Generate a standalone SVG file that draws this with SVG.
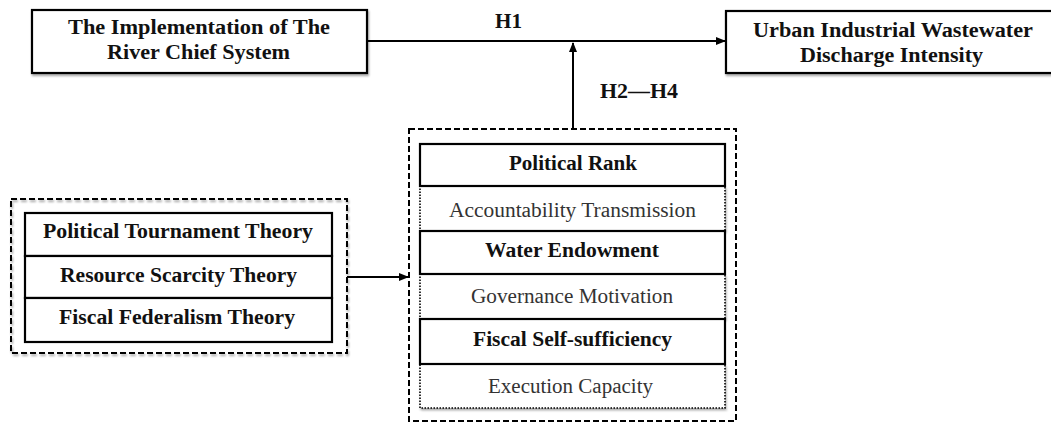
<svg xmlns="http://www.w3.org/2000/svg" width="1051" height="423" viewBox="0 0 1051 423">
<defs>
<filter id="sh" x="-5%" y="-5%" width="110%" height="120%">
<feDropShadow dx="1" dy="2" stdDeviation="1.2" flood-color="#000" flood-opacity="0.35"/>
</filter>
<marker id="arr" viewBox="0 0 10 10" refX="9" refY="5" markerWidth="5" markerHeight="5" orient="auto" markerUnits="strokeWidth">
<path d="M0,1 L10,5 L0,9 z" fill="#000"/>
</marker>
</defs>
<style>
.box{fill:#fff;stroke:#000;stroke-width:2.2}
.dot{fill:#fff;stroke:#000;stroke-width:1.6;stroke-dasharray:1.5,1.5}
.dash{fill:none;stroke:#000;stroke-width:2;stroke-dasharray:6,3}
.b{font-family:"Liberation Serif","Times New Roman",serif;font-weight:bold;font-size:20.5px;fill:#111;text-anchor:middle}
.r{font-family:"Liberation Serif","Times New Roman",serif;font-size:20.5px;fill:#333;text-anchor:middle}
.conn{stroke:#000;stroke-width:2;fill:none}
</style>
<rect width="1051" height="423" fill="#fff"/>
<g id="connectors">
<line class="conn" x1="367" y1="41" x2="725" y2="41" marker-end="url(#arr)"/>
<line class="conn" x1="573" y1="129" x2="573" y2="43" marker-end="url(#arr)"/>
<line class="conn" x1="347" y1="277" x2="408" y2="277" marker-end="url(#arr)"/>
<text class="b" x="508.5" y="28" textLength="27" lengthAdjust="spacingAndGlyphs">H1</text>
<text class="b" x="639" y="98" textLength="78" lengthAdjust="spacingAndGlyphs">H2—H4</text>
</g>
<g id="node-river-chief">
<rect class="box" x="32" y="10" width="335" height="63" filter="url(#sh)"/>
<text class="b" x="199" y="34" font-size="21" textLength="262" lengthAdjust="spacingAndGlyphs">The Implementation of The</text>
<text class="b" x="198.5" y="59" font-size="21" textLength="183" lengthAdjust="spacingAndGlyphs">River Chief System</text>
</g>
<g id="node-wastewater">
<rect class="box" x="726" y="11" width="332" height="62" filter="url(#sh)"/>
<text class="b" x="893" y="37" font-size="21" textLength="280" lengthAdjust="spacingAndGlyphs">Urban Industrial Wastewater</text>
<text class="b" x="891.5" y="62" font-size="21" textLength="183" lengthAdjust="spacingAndGlyphs">Discharge Intensity</text>
</g>
<g id="node-theories">
<rect class="dash" x="11" y="199" width="336" height="154" filter="url(#sh)"/>
<rect class="box" x="25" y="213" width="307" height="43"/>
<rect class="box" x="25" y="256" width="307" height="42"/>
<rect class="box" x="25" y="298" width="307" height="44"/>
<text class="b" x="178" y="238" textLength="270" lengthAdjust="spacingAndGlyphs">Political Tournament Theory</text>
<text class="b" x="178.5" y="282" textLength="237" lengthAdjust="spacingAndGlyphs">Resource Scarcity Theory</text>
<text class="b" x="177" y="324" textLength="236" lengthAdjust="spacingAndGlyphs">Fiscal Federalism Theory</text>
</g>
<g id="node-moderators">
<rect class="dash" x="409" y="129" width="327" height="292"/>
<rect class="dot" x="420" y="186" width="305" height="45" filter="url(#sh)"/>
<rect class="dot" x="420" y="274" width="305" height="45" filter="url(#sh)"/>
<rect class="dot" x="420" y="364" width="305" height="44" filter="url(#sh)"/>
<rect class="box" x="420" y="144" width="305" height="42"/>
<rect class="box" x="420" y="231" width="305" height="43"/>
<rect class="box" x="420" y="319" width="305" height="45"/>
<text class="b" x="573" y="170" textLength="128" lengthAdjust="spacingAndGlyphs">Political Rank</text>
<text class="r" x="572.5" y="217" textLength="247" lengthAdjust="spacingAndGlyphs">Accountability Transmission</text>
<text class="b" x="572" y="257" textLength="174" lengthAdjust="spacingAndGlyphs">Water Endowment</text>
<text class="r" x="572" y="303" textLength="202" lengthAdjust="spacingAndGlyphs">Governance Motivation</text>
<text class="b" x="572.5" y="346" textLength="199" lengthAdjust="spacingAndGlyphs">Fiscal Self-sufficiency</text>
<text class="r" x="570.5" y="393" textLength="165" lengthAdjust="spacingAndGlyphs">Execution Capacity</text>
</g>
</svg>
